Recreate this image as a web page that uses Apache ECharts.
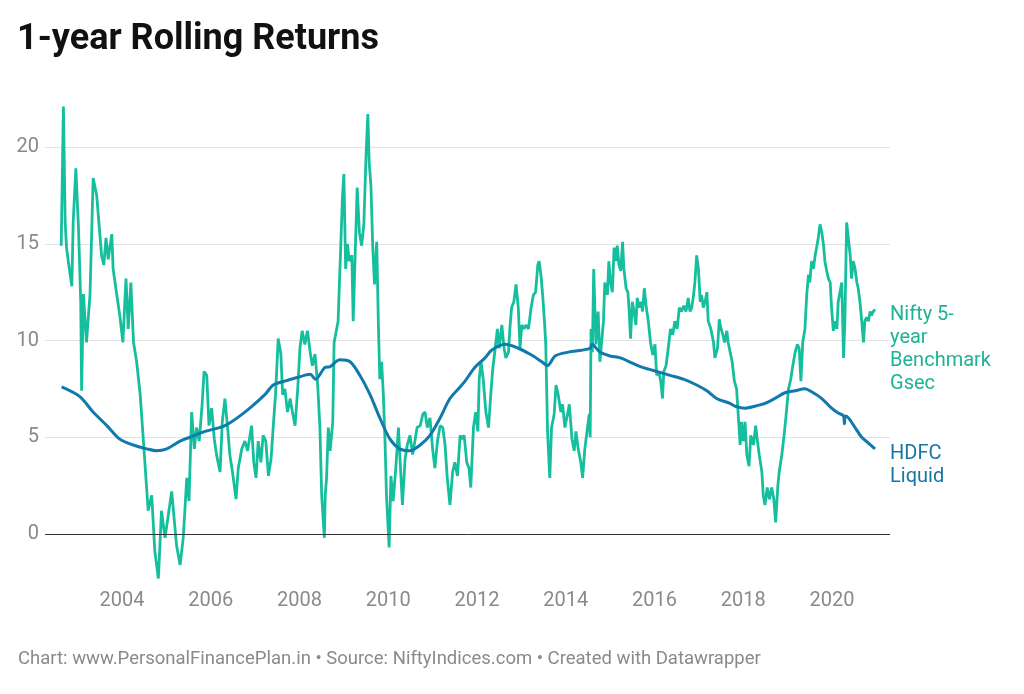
<!DOCTYPE html>
<html>
<head>
<meta charset="utf-8">
<title>1-year Rolling Returns</title>
<script src="https://cdn.jsdelivr.net/npm/echarts@6.0.0/dist/echarts.min.js"></script>
<style>
  html, body { margin: 0; padding: 0; background: #fff; }
  #chart { width: 1024px; height: 694px; }
</style>
</head>
<body>
<div id="chart"></div>
<script>
// values (x = decimal year, y = 1-year return %)
const gsecYears = [
  2002.63, 2002.68, 2002.72, 2002.75, 2002.79, 2002.87, 2002.90, 2002.96, 2003.02, 2003.07,
  2003.09, 2003.13, 2003.20, 2003.28, 2003.35, 2003.43, 2003.49, 2003.54, 2003.59, 2003.64,
  2003.69, 2003.77, 2003.80, 2003.88, 2003.95, 2004.02, 2004.09, 2004.14, 2004.20, 2004.26,
  2004.33, 2004.41, 2004.48, 2004.59, 2004.67, 2004.74, 2004.82, 2004.89, 2004.97, 2005.12,
  2005.23, 2005.31, 2005.38, 2005.46, 2005.51, 2005.57, 2005.63, 2005.68, 2005.74, 2005.80,
  2005.85, 2005.91, 2005.96, 2006.02, 2006.08, 2006.13, 2006.21, 2006.26, 2006.32, 2006.38,
  2006.43, 2006.49, 2006.57, 2006.62, 2006.70, 2006.77, 2006.83, 2006.92, 2006.97, 2007.02,
  2007.07, 2007.13, 2007.18, 2007.24, 2007.30, 2007.36, 2007.41, 2007.46, 2007.52, 2007.58,
  2007.62, 2007.67, 2007.73, 2007.79, 2007.84, 2007.90, 2007.96, 2008.01, 2008.06, 2008.12,
  2008.18, 2008.24, 2008.29, 2008.35, 2008.41, 2008.46, 2008.50, 2008.56, 2008.58, 2008.61,
  2008.65, 2008.69, 2008.75, 2008.78, 2008.82, 2008.87, 2008.93, 2008.97, 2009.00, 2009.04,
  2009.08, 2009.12, 2009.18, 2009.21, 2009.25, 2009.30, 2009.35, 2009.40, 2009.45, 2009.50,
  2009.54, 2009.57, 2009.61, 2009.65, 2009.69, 2009.74, 2009.78, 2009.81, 2009.85, 2009.89,
  2009.93, 2009.96, 2010.02, 2010.06, 2010.11, 2010.17, 2010.23, 2010.26, 2010.32, 2010.38,
  2010.43, 2010.49, 2010.55, 2010.60, 2010.65, 2010.72, 2010.78, 2010.83, 2010.88, 2010.94,
  2011.00, 2011.05, 2011.11, 2011.17, 2011.23, 2011.28, 2011.33, 2011.39, 2011.45, 2011.50,
  2011.56, 2011.62, 2011.66, 2011.71, 2011.77, 2011.82, 2011.86, 2011.92, 2011.97, 2012.02,
  2012.05, 2012.09, 2012.14, 2012.20, 2012.26, 2012.31, 2012.35, 2012.41, 2012.46, 2012.50,
  2012.56, 2012.61, 2012.65, 2012.71, 2012.74, 2012.78, 2012.83, 2012.88, 2012.93, 2012.97,
  2013.01, 2013.06, 2013.10, 2013.16, 2013.22, 2013.27, 2013.32, 2013.37, 2013.40, 2013.44,
  2013.48, 2013.52, 2013.55, 2013.59, 2013.64, 2013.68, 2013.74, 2013.78, 2013.83, 2013.89,
  2013.93, 2013.98, 2014.04, 2014.08, 2014.14, 2014.19, 2014.23, 2014.28, 2014.34, 2014.38,
  2014.43, 2014.49, 2014.53, 2014.55, 2014.57, 2014.60, 2014.63, 2014.68, 2014.73, 2014.77,
  2014.85, 2014.88, 2014.94, 2014.97, 2015.01, 2015.05, 2015.09, 2015.13, 2015.16, 2015.20,
  2015.24, 2015.28, 2015.31, 2015.36, 2015.40, 2015.43, 2015.46, 2015.50, 2015.54, 2015.58,
  2015.61, 2015.66, 2015.70, 2015.73, 2015.77, 2015.81, 2015.86, 2015.91, 2015.96, 2016.01,
  2016.05, 2016.10, 2016.14, 2016.18, 2016.21, 2016.26, 2016.31, 2016.36, 2016.41, 2016.46,
  2016.51, 2016.56, 2016.61, 2016.66, 2016.71, 2016.76, 2016.80, 2016.84, 2016.88, 2016.91,
  2016.95, 2016.99, 2017.03, 2017.06, 2017.10, 2017.14, 2017.18, 2017.21, 2017.27, 2017.33,
  2017.36, 2017.42, 2017.46, 2017.50, 2017.54, 2017.58, 2017.63, 2017.66, 2017.70, 2017.75,
  2017.80, 2017.85, 2017.89, 2017.93, 2017.96, 2018.00, 2018.04, 2018.08, 2018.13, 2018.17,
  2018.23, 2018.28, 2018.32, 2018.36, 2018.42, 2018.45, 2018.49, 2018.54, 2018.59, 2018.64,
  2018.69, 2018.73, 2018.78, 2018.81, 2018.87, 2018.92, 2018.96, 2019.02, 2019.07, 2019.11,
  2019.17, 2019.22, 2019.26, 2019.30, 2019.34, 2019.39, 2019.43, 2019.47, 2019.50, 2019.54,
  2019.58, 2019.62, 2019.66, 2019.69, 2019.73, 2019.77, 2019.81, 2019.84, 2019.88, 2019.92,
  2019.96, 2019.99, 2020.03, 2020.07, 2020.11, 2020.14, 2020.18, 2020.22, 2020.26, 2020.29,
  2020.33, 2020.37, 2020.41, 2020.44, 2020.48, 2020.52, 2020.56, 2020.59, 2020.63, 2020.67,
  2020.71, 2020.74, 2020.78, 2020.82, 2020.86, 2020.89, 2020.93, 2020.97
];
const gsecValues = [
  14.9, 22.1, 16.1, 14.8, 14.1, 12.8, 16.1, 18.9, 15.8, 12.0,
  7.4, 12.4, 9.9, 12.4, 18.4, 17.5, 15.8, 14.4, 13.9, 15.3,
  14.2, 15.5, 13.7, 12.4, 11.3, 9.9, 13.2, 10.6, 13.0, 9.9,
  8.9, 7.2, 4.9, 1.2, 2.0, -0.9, -2.3, 1.2, -0.2, 2.2,
  -0.6, -1.6, -0.2, 2.9, 1.7, 6.3, 4.4, 5.5, 4.8, 6.5,
  8.4, 8.2, 5.6, 6.5, 4.9, 4.1, 3.2, 5.8, 7.0, 5.5,
  4.1, 3.2, 1.8, 3.4, 4.4, 4.8, 4.3, 5.6, 3.7, 2.9,
  4.8, 3.7, 5.1, 4.8, 3.0, 3.9, 5.6, 7.2, 10.1, 9.3,
  7.2, 7.5, 6.3, 7.0, 6.3, 5.6, 7.5, 9.6, 10.5, 9.8,
  10.5, 9.4, 8.7, 9.3, 7.7, 5.5, 2.0, -0.2, 2.0, 2.9,
  5.5, 4.3, 5.8, 9.9, 9.9, 11.0, 14.9, 17.5, 18.6, 13.7,
  15.0, 14.1, 14.4, 11.0, 14.1, 17.9, 15.6, 14.9, 16.0, 19.6,
  21.7, 19.2, 18.0, 14.9, 12.9, 15.1, 10.6, 8.0, 8.9, 7.2,
  4.6, 2.0, -0.7, 3.0, 1.7, 3.4, 5.5, 4.1, 1.5, 3.9,
  4.6, 5.1, 4.1, 4.8, 5.5, 5.6, 6.2, 6.3, 5.5, 6.0,
  4.4, 3.4, 4.8, 5.6, 5.5, 4.6, 2.9, 1.5, 3.2, 3.7,
  3.0, 5.1, 4.9, 5.1, 3.7, 3.4, 2.4, 5.5, 6.3, 5.3,
  8.0, 8.9, 8.0, 6.3, 5.5, 7.2, 8.4, 9.6, 10.6, 9.6,
  10.8, 9.6, 9.1, 9.4, 10.6, 11.7, 12.0, 12.9, 11.7, 9.6,
  10.8, 10.6, 10.8, 10.6, 11.7, 12.35, 12.5, 13.9, 14.1, 13.4,
  12.35, 11.0, 9.8, 5.3, 2.9, 5.5, 6.2, 7.7, 7.2, 6.3,
  6.7, 5.5, 6.2, 6.7, 4.9, 4.3, 5.3, 4.4, 3.7, 2.9,
  4.4, 5.5, 6.2, 5.0, 10.6, 9.4, 13.7, 9.8, 11.5, 8.9,
  11.0, 13.0, 12.35, 14.1, 13.0, 12.5, 14.8, 14.1, 14.9, 13.9,
  13.6, 15.1, 13.7, 12.7, 12.5, 11.5, 10.1, 12.0, 11.5, 10.8,
  12.2, 11.7, 12.0, 11.5, 12.7, 11.8, 11.0, 9.9, 9.25, 9.8,
  8.2, 8.4, 7.9, 7.0, 8.4, 8.7, 9.6, 10.6, 10.3, 11.0,
  10.6, 11.7, 11.5, 11.8, 11.5, 12.2, 11.5, 11.7, 12.35, 13.0,
  14.4, 13.7, 12.0, 12.35, 11.7, 12.0, 12.5, 11.0, 10.6, 9.9,
  9.1, 9.6, 11.1, 10.6, 10.3, 9.9, 10.5, 9.9, 9.8, 8.9,
  7.9, 7.5, 7.4, 4.6, 5.8, 4.8, 5.8, 4.1, 3.5, 5.1,
  4.6, 5.6, 4.8, 4.1, 3.2, 2.0, 1.5, 2.4, 1.8, 2.4,
  1.8, 0.6, 2.5, 3.2, 4.1, 5.1, 6.0, 7.5, 8.0, 8.6,
  9.4, 9.8, 9.6, 7.9, 9.9, 10.6, 12.35, 13.4, 13.0, 14.1,
  13.7, 14.4, 14.9, 15.3, 16.0, 15.6, 14.9, 14.1, 13.6, 13.2,
  13.0, 11.7, 10.5, 11.0, 10.6, 12.0, 12.5, 13.0, 9.1, 11.0,
  16.1, 16.1, 14.4, 13.2, 14.1, 13.7, 13.0, 12.7, 12.0, 11.0,
  9.9, 11.0, 11.2, 11.0, 11.5, 11.3, 11.5, 11.6
];

const liquidYears = [
  2002.64, 2003.05, 2003.35, 2003.66, 2003.95, 2004.25, 2004.56, 2004.78, 2005.01, 2005.31,
  2005.53, 2005.87, 2006.32, 2006.77, 2007.22, 2007.41, 2007.67, 2007.97, 2008.24, 2008.36,
  2008.57, 2008.69, 2008.91, 2009.14, 2009.36, 2009.59, 2009.81, 2010.04, 2010.26, 2010.49,
  2010.72, 2010.94, 2011.17, 2011.39, 2011.62, 2011.73, 2011.95, 2012.18, 2012.33, 2012.63,
  2012.93, 2013.23, 2013.46, 2013.59, 2013.76, 2014.06, 2014.36, 2014.55, 2014.59, 2014.77,
  2015.00, 2015.23, 2015.53, 2015.75, 2016.05, 2016.35, 2016.65, 2016.95, 2017.18, 2017.40,
  2017.70, 2017.82, 2018.04, 2018.26, 2018.49, 2018.71, 2018.94, 2019.17, 2019.39, 2019.54,
  2019.77, 2019.99, 2020.14, 2020.26, 2020.28, 2020.30, 2020.37, 2020.52, 2020.67, 2020.82,
  2020.97
];
const liquidValues = [
  7.6, 7.1, 6.3, 5.6, 4.9, 4.6, 4.4, 4.3, 4.4, 4.8,
  5.0, 5.3, 5.6, 6.3, 7.2, 7.7, 7.9, 8.1, 8.25, 8.0,
  8.6, 8.65, 9.0, 8.9, 8.2, 7.2, 6.0, 4.9, 4.4, 4.3,
  4.6, 5.1, 6.0, 7.0, 7.6, 7.9, 8.6, 9.1, 9.5, 9.8,
  9.6, 9.25, 8.9, 8.7, 9.2, 9.4, 9.5, 9.6, 9.8, 9.4,
  9.2, 9.1, 8.8, 8.6, 8.4, 8.2, 8.0, 7.7, 7.4, 7.0,
  6.75, 6.6, 6.5, 6.6, 6.75, 7.0, 7.3, 7.4, 7.5, 7.35,
  7.0, 6.5, 6.25, 6.1, 5.7, 6.1, 6.0, 5.5, 5.0, 4.7,
  4.4
];

const yearTicks = [2004, 2006, 2008, 2010, 2012, 2014, 2016, 2018, 2020];
const valueTicks = [0, 5, 10, 15, 20];

const gsecName = 'Nifty 5-year Benchmark Gsec';
const liquidName = 'HDFC Liquid';

const zip = (xs, ys) => xs.map((x, i) => [x, ys[i]]);

const green = '#15bf9e';
const blue = '#0f7aab';
const font = 'Roboto';

const chart = echarts.init(document.getElementById('chart'));
chart.setOption({
  animation: false,
  textStyle: { fontFamily: font },
  title: [
    {
      text: '1-year Rolling Returns',
      left: 12, top: 17,
      textStyle: { fontFamily: font, fontSize: 36, fontWeight: 'bold', color: '#111' }
    },
    {
      text: 'Chart: www.PersonalFinancePlan.in \u2022 Source: NiftyIndices.com \u2022 Created with Datawrapper',
      left: 13, top: 645,
      textStyle: { fontFamily: font, fontSize: 18.5, fontWeight: 'normal', color: '#8a8a8a' }
    }
  ],
  grid: { left: 45, right: 134, top: 89, bottom: 102 },
  xAxis: {
    type: 'value',
    min: 2002.265,
    max: 2021.307,
    axisLine: { show: false },
    axisTick: { show: false },
    splitLine: { show: false },
    axisLabel: {
      customValues: yearTicks,
      formatter: v => String(v),
      color: '#8a8a8a', fontSize: 20, margin: -1
    }
  },
  yAxis: {
    type: 'value',
    min: -3,
    max: 23,
    axisLine: { show: false },
    axisTick: { show: false, customValues: valueTicks },
    axisLabel: {
      customValues: valueTicks,
      color: '#8a8a8a', fontSize: 20, margin: 6
    },
    splitLine: { show: true, lineStyle: { color: '#e2e2e2', width: 1 } }
  },
  series: [
    {
      name: gsecName,
      type: 'line',
      data: zip(gsecYears, gsecValues),
      showSymbol: false,
      lineStyle: { color: green, width: 2.8 },
      itemStyle: { color: green },
      endLabel: {
        show: true,
        formatter: 'Nifty 5-\nyear\nBenchmark\nGsec',
        color: '#1db394', fontSize: 20, lineHeight: 23,
        distance: 15, verticalAlign: 'top', offset: [0, -6]
      },
      markLine: {
        silent: true,
        symbol: 'none',
        label: { show: false },
        lineStyle: { color: '#333', width: 1, type: 'solid' },
        data: [{ yAxis: 0 }]
      },
      z: 2
    },
    {
      name: liquidName,
      type: 'line',
      data: zip(liquidYears, liquidValues),
      showSymbol: false,
      smooth: 0.3,
      lineStyle: { color: blue, width: 3 },
      itemStyle: { color: blue },
      endLabel: {
        show: true,
        formatter: 'HDFC\nLiquid',
        color: '#1575a6', fontSize: 20, lineHeight: 23,
        distance: 15, verticalAlign: 'top', offset: [0, -6]
      },
      z: 3
    }
  ]
});
</script>
</body>
</html>
